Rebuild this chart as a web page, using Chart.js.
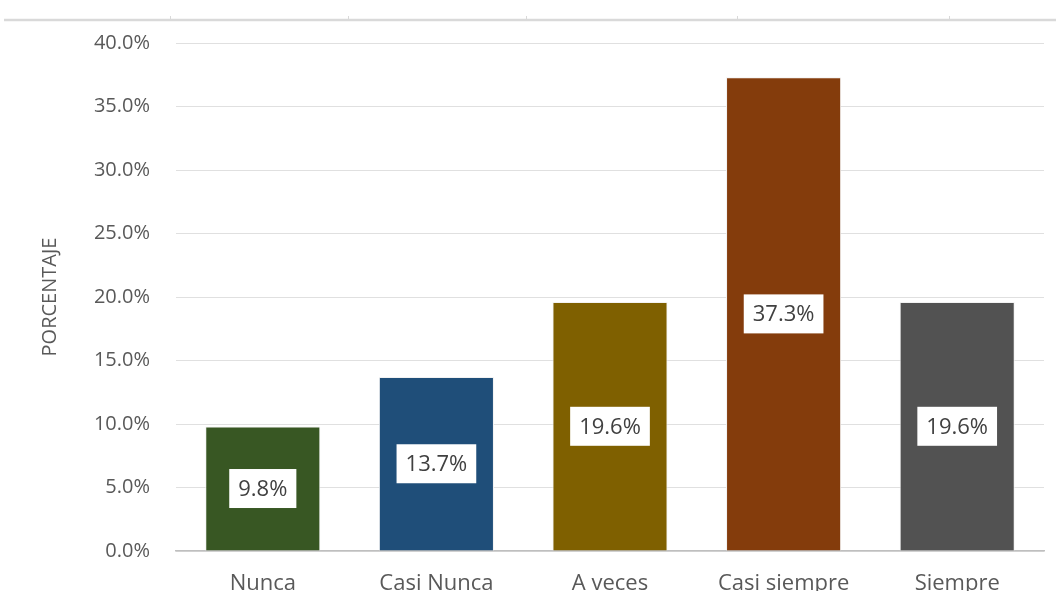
<!DOCTYPE html>
<html>
<head>
<meta charset="utf-8">
<script src="https://cdn.jsdelivr.net/npm/chart.js@4/dist/chart.umd.min.js"></script>
<style>
  html, body { margin: 0; padding: 0; background: #fff; overflow: hidden; }
  #wrap { width: 1056px; height: 610px; }
</style>
</head>
<body>
<div id="wrap"><canvas id="grafico"></canvas></div>
<script>
const categorias = ["Nunca", "Casi Nunca", "A veces", "Casi siempre", "Siempre"];
const porcentajes = [9.8, 13.7, 19.6, 37.3, 19.6];
const colores = ["#385723", "#1f4e79", "#7f6000", "#843c0c", "#525252"];
const ticksY = [0, 5, 10, 15, 20, 25, 30, 35, 40];

// linea gris de arriba (resto del grafico anterior)
const lineaSuperior = {
  id: "lineaSuperior",
  beforeDraw(chart) {
    const ctx = chart.ctx;
    ctx.save();
    ctx.strokeStyle = "#d9d9d9";
    ctx.lineWidth = 2.5;
    ctx.beginPath();
    ctx.moveTo(4, 20);
    ctx.lineTo(1056, 20);
    ctx.stroke();
    ctx.lineWidth = 1;
    [170, 348, 526, 737, 949].forEach(x => {
      ctx.beginPath();
      ctx.moveTo(x + 0.5, 16);
      ctx.lineTo(x + 0.5, 20);
      ctx.stroke();
    });
    ctx.restore();
  }
};

// etiquetas con caja blanca en el centro de cada barra
const etiquetas = {
  id: "etiquetas",
  afterDatasetsDraw(chart) {
    const ctx = chart.ctx;
    const meta = chart.getDatasetMeta(0);
    ctx.save();
    ctx.font = "22px 'Open Sans', sans-serif";
    ctx.textAlign = "center";
    ctx.textBaseline = "middle";
    meta.data.forEach((bar, i) => {
      const txt = porcentajes[i].toFixed(1) + "%";
      const cy = (bar.y + bar.base) / 2;
      const w = ctx.measureText(txt).width + 18;
      const h = 39;
      ctx.fillStyle = "#ffffff";
      ctx.fillRect(bar.x - w / 2, cy - h / 2, w, h);
      ctx.fillStyle = "#404040";
      ctx.fillText(txt, bar.x, cy + 1);
    });
    ctx.restore();
  }
};

new Chart(document.getElementById("grafico"), {
  type: "bar",
  data: {
    labels: categorias,
    datasets: [{
      data: porcentajes,
      backgroundColor: colores,
      borderColor: "#f2f2f2",
      borderWidth: 1,
      categoryPercentage: 0.663,
      barPercentage: 1
    }]
  },
  options: {
    responsive: true,
    maintainAspectRatio: false,
    animation: false,
    layout: { padding: { left: 34, right: 12, top: 43, bottom: 0 } },
    plugins: {
      legend: { display: false },
      tooltip: { enabled: false }
    },
    scales: {
      x: {
        grid: { display: false, drawTicks: false },
        border: { color: "#bfbfbf", width: 1.5 },
        ticks: {
          color: "#595959",
          padding: 20,
          font: { family: "'Open Sans', sans-serif", size: 22 }
        },
        afterFit: s => { s.height = 59; }
      },
      y: {
        min: 0,
        max: 40,
        afterBuildTicks: s => { s.ticks = ticksY.map(v => ({ value: v })); },
        grid: { color: "#e0e0e0", drawTicks: false },
        border: { display: false },
        ticks: {
          color: "#595959",
          padding: 26,
          font: { family: "'Open Sans', sans-serif", size: 20 },
          callback: v => v.toFixed(1) + "%"
        },
        title: {
          display: true,
          text: "PORCENTAJE",
          color: "#595959",
          font: { family: "'Open Sans', sans-serif", size: 20 }
        },
        afterFit: s => { s.width = 142; }
      }
    }
  },
  plugins: [lineaSuperior, etiquetas]
});
</script>
</body>
</html>
